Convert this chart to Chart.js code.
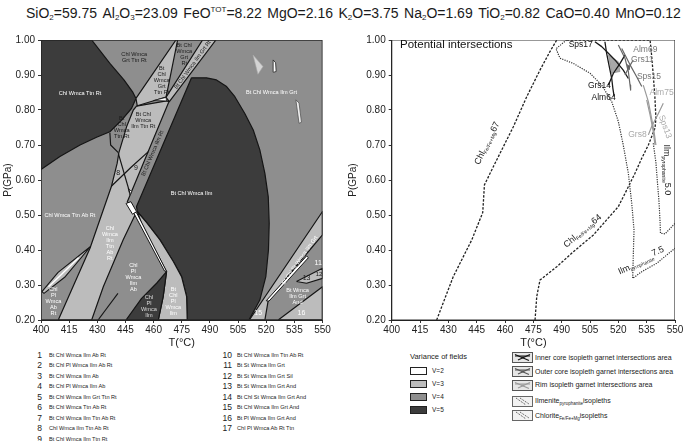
<!DOCTYPE html>
<html>
<head>
<meta charset="utf-8">
<script src="https://cdn.jsdelivr.net/npm/chart.js@4.4.1/dist/chart.umd.min.js"></script>
<style>
html,body{margin:0;padding:0;background:#fff;}
body{width:685px;height:441px;position:relative;overflow:hidden;font-family:"Liberation Sans",Arial,Helvetica,sans-serif;color:#222;}
#title{position:absolute;left:26px;width:655px;top:4px;height:18px;display:flex;justify-content:space-between;font-size:14px;line-height:18px;white-space:nowrap;color:#1a1a1a;}
#title sub{font-size:8px;vertical-align:-2px;line-height:0;}
#title sup{font-size:8px;vertical-align:6px;line-height:0;}
canvas{position:absolute;}
#cL{left:0;top:30px;}
#cR{left:345px;top:30px;}
.num{position:absolute;font-size:8.5px;line-height:10px;height:10px;text-align:right;width:20px;color:#222;}
.lt{position:absolute;font-size:5.6px;line-height:10px;height:10px;white-space:nowrap;color:#222;}
.rt{position:absolute;font-size:7px;line-height:10px;height:10px;white-space:nowrap;color:#222;}
.rt sub{font-size:4.5px;vertical-align:-1.5px;line-height:0;}
.vb{position:absolute;width:15px;height:6px;border:1px solid #222;}
.ic{position:absolute;}
</style>
</head>
<body>
<div id="title">
<span>SiO<sub>2</sub>=59.75</span><span>Al<sub>2</sub>O<sub>3</sub>=23.09</span><span>FeO<sup>TOT</sup>=8.22</span><span>MgO=2.16</span><span>K<sub>2</sub>O=3.75</span><span>Na<sub>2</sub>O=1.69</span><span>TiO<sub>2</sub>=0.82</span><span>CaO=0.40</span><span>MnO=0.12</span>
</div>
<canvas id="cL" width="340" height="320"></canvas>
<canvas id="cR" width="340" height="320"></canvas>
<div id="legL"></div>
<div id="legR"></div>
<script>
const FONT='"Liberation Sans", Arial, Helvetica, sans-serif';
const T_TICKS=[400,415,430,445,460,475,490,505,520,535,550];
const P_TICKS=[0.2,0.3,0.4,0.5,0.6,0.7,0.8,0.9,1.0];

// ---------- Left panel: pseudosection fields (T in °C, P in GPa) ----------
const plotBox=[[400,0.2],[550,0.2],[550,1.0],[400,1.0]];
const fieldChlWmcaTtnRt=[[400,1.0],[427.0,1.0],[436.7,0.933],[444.2,0.886],[448.8,0.852],[450.6,0.833],[448.3,0.805],[443.0,0.771],[436.7,0.738],[429.6,0.722],[420.8,0.700],[410.1,0.667],[400,0.630]];
const fieldBtChlWmcaIlm=[[480.2,0.892],[488.2,0.892],[493.5,0.886],[498.9,0.867],[503.3,0.838],[508.6,0.790],[513.1,0.743],[516.6,0.686],[519.3,0.619],[521.1,0.552],[521.6,0.476],[521.2,0.400],[519.8,0.324],[516.6,0.257],[510.8,0.200],[477.9,0.200],[477.6,0.267],[474.9,0.324],[470.5,0.367],[463.4,0.429],[456.3,0.478],[451.3,0.510],[450.9,0.524]];
const fieldIlmTtnStrip=[[409.2,0.200],[426.1,0.405],[437.6,0.583],[440.6,0.648],[441.5,0.678],[445.6,0.752],[449.2,0.800],[450.9,0.811],[466.9,0.826],[468.2,0.824],[446.0,0.538],[449.2,0.510],[450.1,0.500],[443.8,0.429],[433.2,0.295],[427.0,0.200]];
const fieldBtChlWmcaGrtTtnRt=[[450.6,0.833],[471.9,1.0],[472.8,1.0],[467.5,0.859],[466.6,0.837],[451.3,0.812]];
const fieldBtChlWmcaIlmGrtRt=[[486.1,1.0],[493.2,1.0],[468.4,0.824],[466.6,0.836]];
const fieldBtChlPlWmcaIlm=[[451.3,0.510],[456.3,0.478],[463.4,0.429],[470.5,0.367],[474.9,0.324],[477.6,0.267],[477.9,0.200],[462.5,0.200],[465.1,0.267],[466.9,0.338],[459.8,0.410],[453.6,0.476]];
const fieldChlPlWmcaIlm=[[445.3,0.200],[453.6,0.262],[461.6,0.305],[466.9,0.338],[465.1,0.267],[462.5,0.200]];
const fieldThinLens=[[449.0,0.510],[451.0,0.506],[467.0,0.338],[465.8,0.340]];
const fieldSmallQuad=[[445.3,0.533],[447.9,0.538],[450.9,0.510],[448.8,0.502]];
const fieldSmallTri=[[446.5,0.576],[448.3,0.567],[447.4,0.557]];
const fieldWhiteWedge=[[460.0,0.827],[466.6,0.836],[466.9,0.826]];
const fieldLowerLens=[[400.5,0.281],[409.1,0.336],[426.4,0.410],[412.6,0.322],[401.6,0.276]];
const fieldStStrip=[[511.0,0.200],[550,0.510],[550,0.443],[542.4,0.395],[533.5,0.338],[526.4,0.290],[521.1,0.257],[519.3,0.200]];
const fieldStLens=[[520.0,0.255],[541.5,0.383],[542.5,0.378],[521.5,0.254]];
const field16=[[526.4,0.200],[550,0.295],[550,0.200]];
const field13=[[536.1,0.310],[550,0.348],[550,0.319],[541.5,0.305]];
const spotTri=[[513.0,0.957],[518.3,0.924],[515.6,0.902]];
const spotMark=[[523.7,0.943],[525.0,0.935],[525.3,0.910],[524.0,0.908]];
const spotStripe=[[535.8,0.829],[537.5,0.820],[538.8,0.765],[537.5,0.762]];
const lineA=[[436.7,0.735],[437.1,0.700],[441.2,0.678]];
const lineB=[[437.6,0.583],[448.3,0.638],[457.2,0.681]];
const lineC=[[441.2,0.676],[447.4,0.562]];
const lineD=[[430.4,0.200],[441.0,0.276]];
const lensCore=[[404,0.295],[411,0.331],[420,0.378]];

// ---------- Right panel: isopleths ----------
const isoChl67=[[423.8,0.200],[432.6,0.324],[442.4,0.429],[448.2,0.507],[449.1,0.586],[453.8,0.638],[464.4,0.752],[471.5,0.838],[478.5,0.914],[483.8,0.967],[487.4,1.000]];
const isoChl64=[[475.9,0.200],[476.8,0.267],[478.5,0.314],[487.4,0.352],[496.2,0.395],[506.8,0.443],[513.8,0.486],[520.0,0.524],[524.4,0.571],[528.8,0.619],[532.4,0.662],[535.9,0.700],[539.4,0.748],[539.9,0.776],[539.4,0.833],[538.5,0.900],[537.6,0.957],[536.8,1.000],[492.6,1.000]];
const isoIlm75=[[492.6,1.000],[487.0,0.975],[489.1,0.948],[496.2,0.933],[505.0,0.905],[511.2,0.871],[516.5,0.824],[520.0,0.767],[522.6,0.700],[525.3,0.619],[527.1,0.533],[528.3,0.457],[527.9,0.381],[527.6,0.319],[532.4,0.338],[540.3,0.362],[550.0,0.405]];
const isoIlm50=[[538.5,0.705],[539.9,0.650],[540.6,0.600],[541.5,0.540],[542.1,0.480],[542.3,0.448],[544.7,0.446],[550,0.476]];
const grtInnerSps17=[[507.6,0.995],[511.2,0.981],[514.7,0.962],[518.2,0.943],[522.6,0.914],[525.3,0.890]];
const grtInnerAlm64=[[512.9,0.995],[513.8,0.962],[515.2,0.924],[516.5,0.890],[517.1,0.862],[517.8,0.838]];
const grtInnerGrs14=[[514.7,0.871],[517.4,0.905],[520.9,0.933],[523.5,0.957]];
const grtInnerArea=[[514.7,0.957],[520.0,0.938],[520.9,0.910],[516.5,0.905]];
const grtOuterAlm69=[[520.0,0.986],[523.5,0.948],[525.3,0.910],[526.2,0.871],[526.5,0.857]];
const grtOuterSps15=[[521.8,0.976],[526.2,0.929],[529.7,0.895],[532.4,0.867]];
const grtOuterGrs11=[[523.5,0.900],[525.8,0.924],[527.9,0.943]];
const grtOuterArea=[[524.8,0.930],[526.0,0.925],[525.8,0.915],[524.9,0.918]];
const grtRimAlm75=[[533.2,0.871],[535.9,0.824],[537.6,0.776],[538.9,0.738],[539.9,0.700]];
const grtRimSps13=[[543.8,0.819],[541.2,0.790],[537.6,0.752],[535.9,0.729]];
const grtRimGrs8=[[535.0,0.829],[536.8,0.786],[538.5,0.738],[539.4,0.700]];

// ---------- Legends ----------
const fieldNums=[1,2,3,4,5,6,7,8,9,10,11,12,13,14,15,16,17];
const fieldNames=['Bt Chl Wmca Ilm Ab Rt','Bt Chl Pl Wmca Ilm Ab Rt','Bt Chl Wmca Ilm Ab','Bt Chl Pl Wmca Ilm Ab','Bt Chl  Wmca Ilm Grt Ttn Rt','Bt Chl Wmca Ttn Ab Rt','Bt Chl Wmca  Ilm Ttn Ab Rt','Chl Wmca  Ilm Ttn Ab Rt','Bt Chl Wmca Ilm Ttn Rt','Bt Chl Wmca Ilm Ttn Ab Rt','Bt St Wmca Ilm Grt','Bt St Wmca Ilm Grt Sil','Bt St Wmca Ilm Grt And','Bt Chl St Wmca Ilm Grt And','Bt Chl Wmca Ilm Grt And','Bt Pl Wmca Ilm Grt And','Chl Pl Wmca Ab Rt Ttn'];
const varianceNames=['V=2','V=3','V=4','V=5'];
const COL={v2:'#ffffff',v3:'#bcbcbc',v4:'#8e8e8e',v5:'#3c3c3c',edge:'#151515'};
const varianceColors=[COL.v2,COL.v3,COL.v4,COL.v5];

const leftLabels=[
 {text:'Chl Wmca Ttn Rt',t:420.8,p:0.848,c:'#fff'},
 {text:'Chl Wmca\nGrt Ttn Rt',t:449.7,p:0.950,c:'#1a1a1a'},
 {text:'Bt\nChl\nWmca\nGrt\nTtn Rt',t:464.3,p:0.884,c:'#1a1a1a'},
 {text:'Bt Chl\nWmca\nGrt\nRt',t:476.3,p:0.959,c:'#1a1a1a'},
 {text:'Bt Chl Wmca Ilm Grt Rt',t:480.8,p:0.929,c:'#1a1a1a',rot:-54},
 {text:'Bt Chl Wmca Ilm Grt',t:522.8,p:0.850,c:'#fff'},
 {text:'Bt Chl\nWmca\nIlm Ttn Rt',t:454.5,p:0.770,c:'#1a1a1a'},
 {text:'Bt\nChl\nWmca\nTtn Rt',t:443.0,p:0.749,c:'#1a1a1a'},
 {text:'Bt Chl Wmca Ilm Rt',t:459.5,p:0.676,c:'#1a1a1a',rot:-67},
 {text:'8',t:441.2,p:0.619,c:'#1a1a1a',size:7},
 {text:'9',t:450.6,p:0.633,c:'#1a1a1a',size:7},
 {text:'Bt Chl Wmca Ilm',t:480.2,p:0.562,c:'#fff'},
 {text:'Chl Wmca Ttn Ab Rt',t:415.4,p:0.500,c:'#fff'},
 {text:'Chl\nWmca\nIlm\nTtn\nAb\nRt',t:436.7,p:0.419,c:'#fff'},
 {text:'Chl\nPl\nWmca\nIlm\nAb',t:449.2,p:0.322,c:'#fff'},
 {text:'Chl\nPl\nWmca\nIlm',t:457.5,p:0.238,c:'#ddd'},
 {text:'Bt\nChl\nPl\nWmca\nIlm',t:470.5,p:0.252,c:'#fff'},
 {text:'Chl\nPl\nWmca\nAb\nRt',t:406.6,p:0.252,c:'#fff'},
 {text:'Bt Chl St Wmca Ilm Grt',t:537.9,p:0.371,c:'#fff',rot:-55},
 {text:'11',t:547.7,p:0.362,c:'#fff',size:7},
 {text:'13',t:541.5,p:0.319,c:'#1a1a1a',size:7},
 {text:'12',t:548.2,p:0.330,c:'#1a1a1a',size:6},
 {text:'Bt Wmca\nIlm Grt\nAnd',t:536.7,p:0.267,c:'#fff'},
 {text:'16',t:538.8,p:0.221,c:'#fff',size:7},
 {text:'15',t:515.7,p:0.219,c:'#fff',size:7}
];
const rightLabels=[
 {text:'Potential intersections',t:404.4,p:0.986,c:'#111',size:11.5,align:'left'},
 {text:'Sps17',t:500.1,p:0.986,c:'#111',size:8.5},
 {text:'Grs14',t:510.0,p:0.869,c:'#111',size:8.5},
 {text:'Alm64',t:512.2,p:0.834,c:'#111',size:8.5},
 {text:'Alm69',t:534.3,p:0.971,c:'#777',size:8.5},
 {text:'Grs11',t:532.7,p:0.943,c:'#777',size:8.5},
 {text:'Sps15',t:536.2,p:0.895,c:'#777',size:8.5},
 {text:'Alm75',t:542.9,p:0.850,c:'#aaa',size:8.5},
 {text:'Sps13',t:544.7,p:0.752,c:'#aaa',size:8.5,rot:70},
 {text:'Grs8',t:530.1,p:0.730,c:'#aaa',size:8.5},
 {parts:[['Chl',9,0],['Fe/Fe+Mg',5,2.5],['67',9,0]],t:450.6,p:0.705,c:'#222',rot:-63.6},
 {parts:[['Chl',9,0],['Fe/Fe+Mg',5,2.5],['64',9,0]],t:501.1,p:0.454,c:'#222',rot:-40},
 {parts:[['Ilm',9,0],['pyrophanite',5,2.5],['5.0',9,-1]],t:545.3,p:0.629,c:'#222',rot:90},
 {parts:[['Ilm',9,0],['pyrophanite',5,2.5],['7.5',9,-3]],t:532.4,p:0.366,c:'#222',rot:-24}
];

// ---------- helpers ----------
const pts=a=>a.map(([x,y])=>({x,y}));
function polyDS(a,fill,bw,bc){return {data:pts(a.concat([a[0]])),fill:'shape',backgroundColor:fill,borderColor:bc||COL.edge,borderWidth:bw,borderJoinStyle:'round',pointRadius:0,tension:0};}
function lineDS(a,color,bw,dash){return {data:pts(a),fill:false,borderColor:color,borderWidth:bw,borderDash:dash||[],borderJoinStyle:'round',borderCapStyle:'butt',pointRadius:0,tension:0};}
function ordered(list){const n=list.length;list.forEach((d,i)=>{d.order=n-i;});return list;}

function drawText(ctx,L){
  const size=L.size||5.6;
  ctx.font=size+'px '+FONT;
  ctx.fillStyle=L.c;ctx.textBaseline='middle';
  if(L.parts){
    let w=0;L.parts.forEach(([s,sz])=>{ctx.font=sz+'px '+FONT;w+=ctx.measureText(s).width;});
    let x=-w/2;ctx.textAlign='left';
    L.parts.forEach(([s,sz,dy])=>{ctx.font=sz+'px '+FONT;ctx.fillText(s,x,dy);x+=ctx.measureText(s).width;});
    return;
  }
  ctx.textAlign=L.align||'center';
  const lines=L.text.split('\n');const lh=size*1.08;
  lines.forEach((s,i)=>ctx.fillText(s,0,(i-(lines.length-1)/2)*lh));
}
const labelPlugin={id:'fieldLabels',afterDatasetsDraw(chart,args,opts){
  const {ctx}=chart;const sx=chart.scales.x,sy=chart.scales.y;
  (opts.items||[]).forEach(L=>{
    ctx.save();ctx.translate(sx.getPixelForValue(L.t),sy.getPixelForValue(L.p));
    if(L.rot)ctx.rotate(L.rot*Math.PI/180);
    drawText(ctx,L);ctx.restore();
  });
}};

function scalesCfg(yWidth){
  const grid={display:true,drawOnChartArea:false,drawTicks:true,tickLength:3,color:'#333',lineWidth:1};
  return {
    x:{type:'linear',min:400,max:550,
      afterBuildTicks:s=>{s.ticks=T_TICKS.map(v=>({value:v}));},
      ticks:{font:{size:10,family:FONT},color:'#222',padding:1,maxRotation:0,autoSkip:false},
      grid:grid,border:{display:true,color:'#222',width:1},
      title:{display:true,text:'T(°C)',font:{size:11,family:FONT},color:'#222',padding:{top:0,bottom:0}},
      afterFit:s=>{s.height=30;}},
    y:{type:'linear',min:0.2,max:1.0,
      afterBuildTicks:s=>{s.ticks=P_TICKS.map(v=>({value:v}));},
      ticks:{font:{size:10,family:FONT},color:'#222',padding:3,autoSkip:false,callback:v=>Number(v).toFixed(2)},
      grid:grid,border:{display:true,color:'#222',width:1},
      title:{display:true,text:'P(GPa)',font:{size:10,family:FONT},color:'#222',padding:{top:2,bottom:0}},
      afterFit:s=>{s.width=yWidth;}}
  };
}
function baseOpts(yWidth,padRight,items){
  return {responsive:false,animation:false,devicePixelRatio:1,events:[],
    layout:{padding:{top:10,right:padRight,bottom:0,left:0}},
    plugins:{legend:{display:false},tooltip:{enabled:false},fieldLabels:{items:items}},
    scales:scalesCfg(yWidth)};
}

// ---------- Left chart ----------
const leftDatasets=ordered([
  polyDS(plotBox,COL.v4,0),
  polyDS(fieldChlWmcaTtnRt,COL.v5,1.2),
  polyDS(fieldBtChlWmcaIlm,COL.v5,1.2),
  polyDS(fieldIlmTtnStrip,COL.v3,1.2),
  polyDS(fieldBtChlWmcaGrtTtnRt,COL.v3,1.2),
  polyDS(fieldBtChlWmcaIlmGrtRt,COL.v3,1.2),
  polyDS(fieldBtChlPlWmcaIlm,COL.v3,1.2),
  polyDS(fieldChlPlWmcaIlm,COL.v5,1.2),
  polyDS(fieldThinLens,COL.v2,1),
  polyDS(fieldSmallQuad,COL.v2,1),
  polyDS(fieldSmallTri,COL.v2,0.8),
  polyDS(fieldWhiteWedge,COL.v2,0.8),
  polyDS(fieldLowerLens,COL.v3,1.1),
  polyDS(fieldStStrip,COL.v3,1.2),
  polyDS(fieldStLens,COL.v2,1),
  polyDS(field16,COL.v3,1.2),
  polyDS(field13,COL.v3,1.1),
  polyDS(spotTri,'#d4d4d4',0.6,'#aaa'),
  polyDS(spotMark,'#fff',0.8,'#222'),
  polyDS(spotStripe,'#eee',0.8,'#555'),
  lineDS(lineA,COL.edge,1.2),
  lineDS(lineB,COL.edge,1.2),
  lineDS(lineC,COL.edge,1.2),
  lineDS(lineD,COL.edge,1.1),
  lineDS(lensCore,'#fff',1.4),
  polyDS(plotBox,'rgba(0,0,0,0)',1.6,'#2a2a2a')
]);
new Chart(document.getElementById('cL'),{type:'line',data:{datasets:leftDatasets},
  options:baseOpts(41,17.5,leftLabels),plugins:[labelPlugin]});

// ---------- Right chart ----------
const rightDatasets=ordered([
  lineDS(isoChl67,'#222',1.3,[2.5,1.5]),
  lineDS(isoChl64,'#222',1.3,[2.5,1.5]),
  lineDS(isoIlm75,'#333',1.2,[1.2,1.2]),
  lineDS(isoIlm50,'#333',1.2,[1.2,1.2]),
  polyDS(grtInnerArea,'#a8a8a8',0.5,'#777'),
  polyDS(grtOuterArea,'#555',0.5,'#555'),
  lineDS(grtInnerSps17,'#1a1a1a',1.3),
  lineDS(grtInnerAlm64,'#1a1a1a',1.3),
  lineDS(grtInnerGrs14,'#1a1a1a',1.3),
  lineDS(grtOuterAlm69,'#666',1.2),
  lineDS(grtOuterSps15,'#666',1.2),
  lineDS(grtOuterGrs11,'#666',1.2),
  lineDS(grtRimAlm75,'#9a9a9a',1.2),
  lineDS(grtRimSps13,'#9a9a9a',1.2),
  lineDS(grtRimGrs8,'#9a9a9a',1.2),
  polyDS(plotBox,'rgba(0,0,0,0)',1.2,'#333')
]);
new Chart(document.getElementById('cR'),{type:'line',data:{datasets:rightDatasets},
  options:baseOpts(46.7,10,rightLabels),plugins:[labelPlugin]});

// ---------- HTML legends ----------
(function(){
  const L=document.getElementById('legL');let h='';
  fieldNums.forEach((n,i)=>{
    const col=i<9?0:1,row=i<9?i:i-9;
    const cy=355+row*10.45;
    const nx=col?212:22, tx=col?237:49;
    h+=`<div class="num" style="left:${nx}px;top:${cy-5}px">${n}</div><div class="lt" style="left:${tx}px;top:${cy-5}px">${fieldNames[i]}</div>`;
  });
  L.innerHTML=h;
  const R=document.getElementById('legR');let r='';
  r+=`<div class="rt" style="left:410px;top:352px;font-size:7.5px">Variance of fields</div>`;
  varianceNames.forEach((v,i)=>{
    const cy=370.7+i*13;
    r+=`<div class="vb" style="left:410px;top:${cy-4}px;background:${varianceColors[i]}"></div><div class="rt" style="left:432px;top:${cy-5}px;font-size:6.5px">${v}</div>`;
  });
  const icons=[['#111','#888'],['#555','#999'],['#999','#bbb']];
  const rTexts=['Inner core isopleth garnet intersections area','Outer core isopleth garnet intersections area','Rim isopleth garnet intersections area','Ilmenite<sub>pyrophanite</sub>isopleths','Chlorite<sub>Fe/Fe+Mg</sub>isopleths'];
  const rY=[357.7,371.7,385.3,401,415.7];
  rTexts.forEach((t,i)=>{
    const cy=rY[i];let svg;
    if(i<3){
      const [lc,fc]=icons[i];
      svg=`<svg class="ic" style="left:512px;top:${cy-5.5}px" width="21" height="11"><rect x="0.5" y="0.5" width="20" height="10" fill="#e6e6e6" stroke="#555"/><polygon points="9,4 13,4 11,7" fill="${fc}"/><line x1="3" y1="2.5" x2="17" y2="8.5" stroke="${lc}" stroke-width="1.1"/><line x1="18" y1="2.5" x2="6" y2="8" stroke="${lc}" stroke-width="1.1"/><line x1="3" y1="4" x2="18" y2="4" stroke="${lc}" stroke-width="1"/></svg>`;
    }else{
      svg=`<svg class="ic" style="left:512px;top:${cy-5.5}px" width="21" height="11"><rect x="0.5" y="0.5" width="20" height="10" fill="#f2f2f2" stroke="#666"/><line x1="4" y1="2" x2="14" y2="9" stroke="#333" stroke-width="0.9" stroke-dasharray="1,1"/><line x1="8" y1="2" x2="17" y2="8" stroke="#333" stroke-width="0.9" stroke-dasharray="1,1"/></svg>`;
    }
    r+=svg+`<div class="rt" style="left:535px;top:${cy-5}px">${t}</div>`;
  });
  R.innerHTML=r;
})();
</script>
</body>
</html>
